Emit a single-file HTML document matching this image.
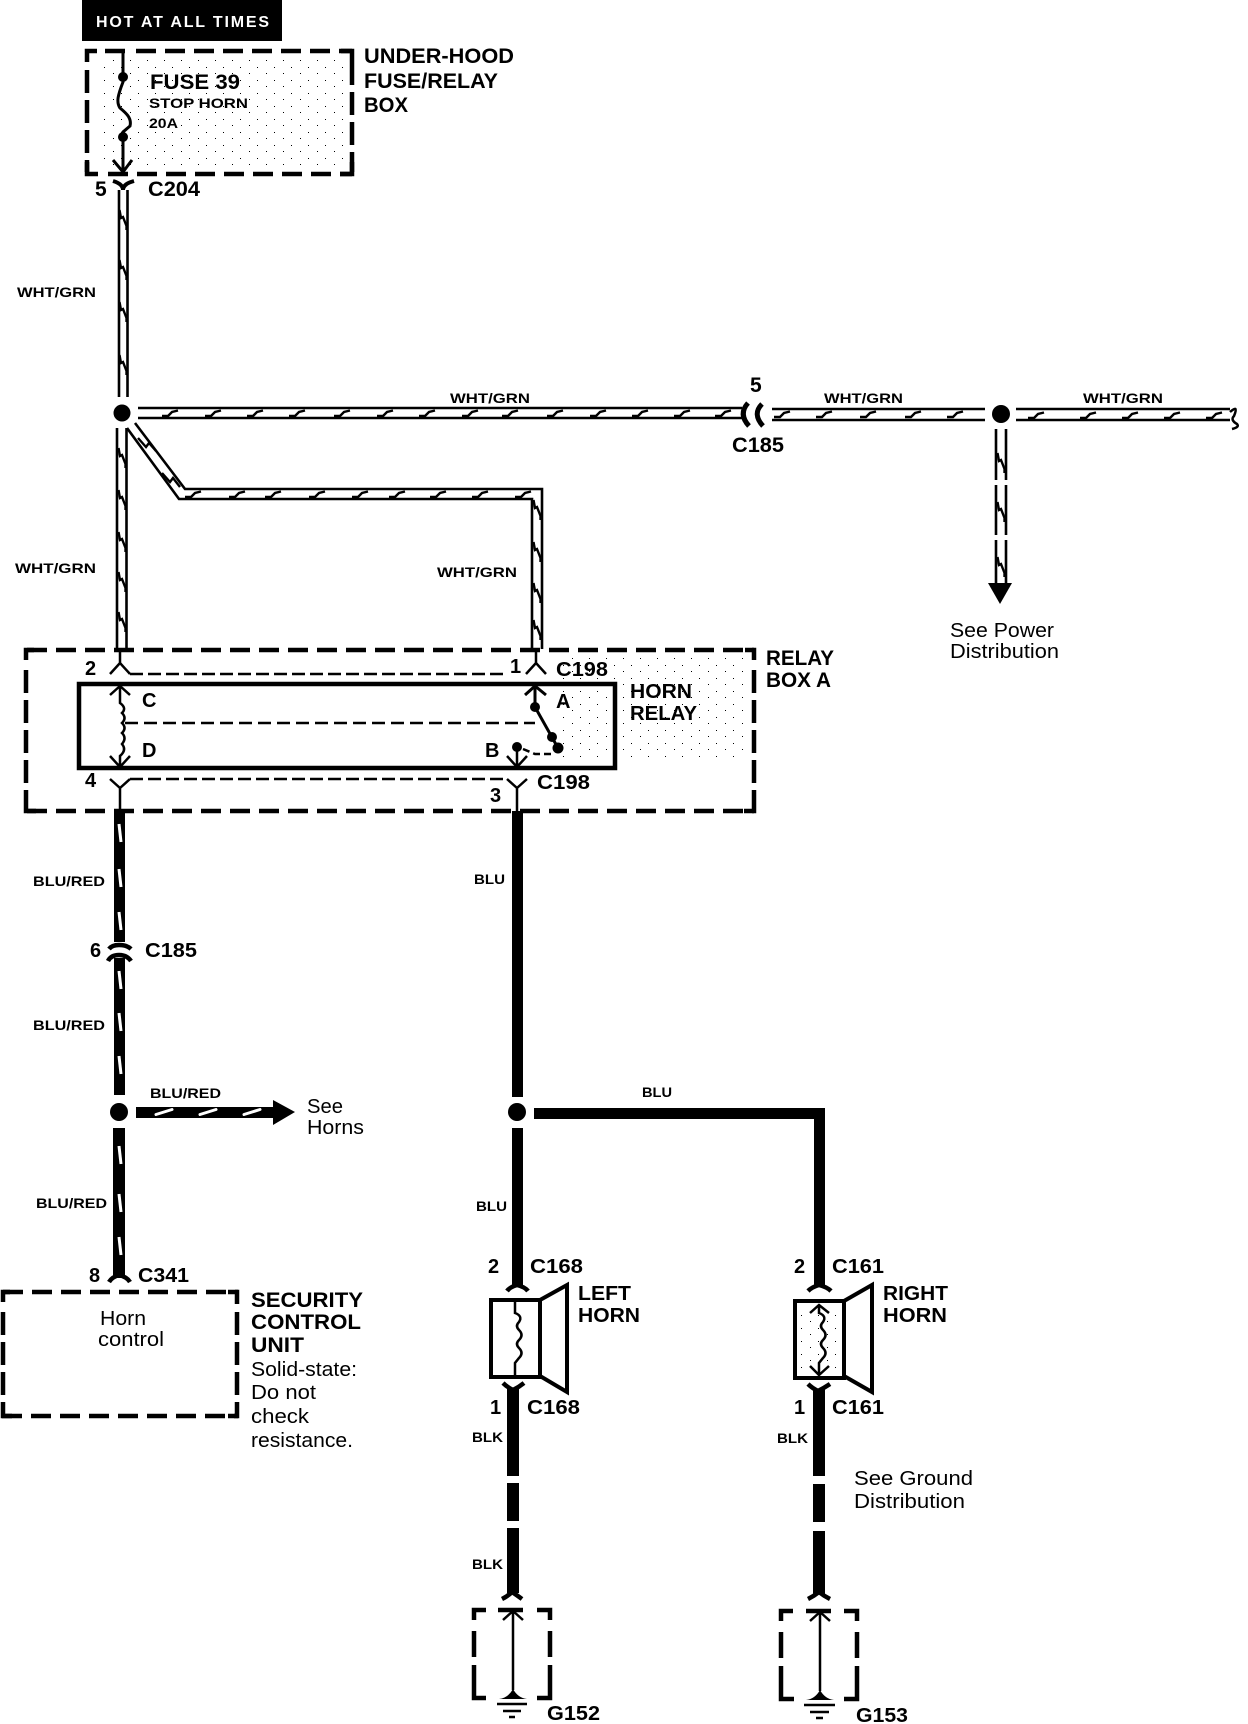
<!DOCTYPE html>
<html><head><meta charset="utf-8"><title>Horn circuit</title>
<style>
html,body{margin:0;padding:0;background:#fff}
svg{display:block}
text{font-family:"Liberation Sans",Arial,sans-serif;fill:#000}
.b{font-weight:bold;font-size:21px}
.s{font-weight:bold;font-size:14px}
.r{font-size:20px}
</style></head><body>
<svg width="1248" height="1724" viewBox="0 0 1248 1724" xmlns="http://www.w3.org/2000/svg">
<defs>
<path id="th" d="M-8 3L-2 3L2 -1L8 -2.500" fill="none" stroke="#000" stroke-width="2.400"/>
<path id="tv" d="M-3.500 -10L-2 -2L0 -3L3.500 6L3.500 10" fill="none" stroke="#000" stroke-width="2.400"/>
<path id="wt" d="M-1 -9L1 9" stroke="#fff" stroke-width="3" fill="none"/>
<path id="wh" d="M-8 2.500L8 -2.500" stroke="#fff" stroke-width="3" fill="none" stroke-linecap="round"/>
<pattern id="st" width="17" height="13" patternUnits="userSpaceOnUse"><rect x="2" y="2" width="1" height="1" fill="#000"/><rect x="11" y="8" width="1" height="1" fill="#000"/></pattern>
</defs>
<rect width="1248" height="1724" fill="#fff"/>

<!-- stipple -->
<g fill="url(#st)">
<rect x="100" y="56" width="245" height="112"/>
<rect x="560" y="655" width="190" height="105"/>
<rect x="800" y="1310" width="38" height="60"/>
</g>

<!-- header -->
<rect x="82" y="0" width="200" height="41" fill="#000"/>
<text x="96" y="27" style="fill:#fff;font-size:16px;font-weight:bold" textLength="173" lengthAdjust="spacing">HOT AT ALL TIMES</text>

<!-- fuse box -->
<g fill="none" stroke="#000" stroke-width="4.500">
<path d="M136 51H352" stroke-dasharray="20 9"/>
<path d="M108 174H352" stroke-dasharray="20 9"/>
<path d="M87 70V172" stroke-dasharray="23 7"/>
<path d="M352 62V172" stroke-dasharray="23 7"/>
<path d="M87 62V51H97M105 51H125M352 62V51H341M87 162V174H98M352 162V174H340"/>
</g>
<path d="M123 50V82C118 95 116 102 120 108C126 113 132 118 130 126L123 132V172M113 160L123 172L132 160" fill="none" stroke="#000" stroke-width="3"/>
<circle cx="123" cy="77" r="5"/><circle cx="123" cy="137" r="5"/>
<path d="M113 181Q123 184 123 190Q123 184 134 181" fill="none" stroke="#000" stroke-width="4"/>
<text class="b" x="364" y="63" textLength="150" lengthAdjust="spacingAndGlyphs">UNDER-HOOD</text>
<text class="b" x="364" y="88" textLength="134" lengthAdjust="spacingAndGlyphs">FUSE/RELAY</text>
<text class="b" x="364" y="112" textLength="44" lengthAdjust="spacingAndGlyphs">BOX</text>
<text class="b" x="150" y="89" textLength="90" lengthAdjust="spacingAndGlyphs">FUSE 39</text>
<text class="s" x="149" y="108" textLength="99" lengthAdjust="spacingAndGlyphs">STOP HORN</text>
<text class="s" x="149" y="128" textLength="29" lengthAdjust="spacingAndGlyphs">20A</text>
<text class="b" x="95" y="196">5</text>
<text class="b" x="148" y="196" textLength="52" lengthAdjust="spacingAndGlyphs">C204</text>

<!-- wht/grn wires -->
<g fill="none" stroke="#000" stroke-width="2.600">
<path d="M119 190V397M127.500 190V397"/>
<path d="M117 428V649M126.500 428V649"/>
<path d="M127 428L179 499H532V649M135 423L185 489H542V649"/>
<path d="M138 408H742M138 418H742"/>
<path d="M772 409H985M772 420H985M1016 409H1230M1016 420H1230"/>
<path d="M996 429V480M1006 429V480M996 485V535M1006 485V535M996 540V584M1006 540V584"/>
<path d="M1230 412Q1239 404 1234 416Q1230 420 1237 424Q1240 427 1232 429" stroke-width="2.500"/>
</g>
<path d="M748 403Q738 414 749 426" fill="none" stroke="#000" stroke-width="5"/>
<path d="M762 404Q752 414 763 426" fill="none" stroke="#000" stroke-width="5"/>
<circle cx="122" cy="413" r="8.500"/>
<circle cx="1001" cy="414" r="9"/>
<path d="M988 583H1012L1000 604Z"/>

<!-- twist marks -->
<g>
<use href="#tv" x="123" y="220"/><use href="#tv" x="123" y="270"/><use href="#tv" x="123" y="312"/><use href="#tv" x="123" y="365"/>
<use href="#tv" x="122" y="458"/><use href="#tv" x="122" y="500"/><use href="#tv" x="122" y="542"/><use href="#tv" x="122" y="582"/><use href="#tv" x="122" y="622"/>
<use href="#tv" x="537" y="510"/><use href="#tv" x="537" y="552"/><use href="#tv" x="537" y="593"/><use href="#tv" x="537" y="630"/>
<use href="#tv" x="1001" y="463"/><use href="#tv" x="1001" y="512"/><use href="#tv" x="1001" y="567"/>
<use href="#th" x="170" y="413"/><use href="#th" x="213" y="413"/><use href="#th" x="255" y="413"/><use href="#th" x="297" y="413"/><use href="#th" x="342" y="413"/><use href="#th" x="385" y="413"/><use href="#th" x="427" y="413"/><use href="#th" x="470" y="413"/><use href="#th" x="510" y="413"/><use href="#th" x="555" y="413"/><use href="#th" x="598" y="413"/><use href="#th" x="640" y="413"/><use href="#th" x="682" y="413"/><use href="#th" x="723" y="413"/>
<use href="#th" x="782" y="414"/><use href="#th" x="824" y="414"/><use href="#th" x="868" y="414"/><use href="#th" x="913" y="414"/><use href="#th" x="955" y="414"/>
<use href="#th" x="1036" y="415"/><use href="#th" x="1088" y="415"/><use href="#th" x="1130" y="415"/><use href="#th" x="1172" y="415"/><use href="#th" x="1214" y="415"/>
<use href="#th" x="193" y="494"/><use href="#th" x="237" y="494"/><use href="#th" x="273" y="494"/><use href="#th" x="317" y="494"/><use href="#th" x="360" y="494"/><use href="#th" x="397" y="494"/><use href="#th" x="438" y="494"/><use href="#th" x="480" y="494"/><use href="#th" x="523" y="494"/>
<path d="M138 438L146 447L149 443L156 451M162 473L170 482L173 478L180 487" fill="none" stroke="#000" stroke-width="2.400"/>
</g>

<text class="s" x="17" y="297" textLength="79" lengthAdjust="spacingAndGlyphs">WHT/GRN</text>
<text class="s" x="15" y="573" textLength="81" lengthAdjust="spacingAndGlyphs">WHT/GRN</text>
<text class="s" x="437" y="577" textLength="80" lengthAdjust="spacingAndGlyphs">WHT/GRN</text>
<text class="s" x="450" y="403" textLength="80" lengthAdjust="spacingAndGlyphs">WHT/GRN</text>
<text class="s" x="824" y="403" textLength="79" lengthAdjust="spacingAndGlyphs">WHT/GRN</text>
<text class="s" x="1083" y="403" textLength="80" lengthAdjust="spacingAndGlyphs">WHT/GRN</text>
<text class="b" x="750" y="392">5</text>
<text class="b" x="732" y="452" textLength="52" lengthAdjust="spacingAndGlyphs">C185</text>
<text class="r" x="950" y="637" textLength="104" lengthAdjust="spacingAndGlyphs">See Power</text>
<text class="r" x="950" y="658" textLength="109" lengthAdjust="spacingAndGlyphs">Distribution</text>

<!-- relay box -->
<g fill="none" stroke="#000" stroke-width="4.500">
<path d="M27 650H754" stroke-dasharray="20 9"/>
<path d="M27 811H754" stroke-dasharray="20 9"/>
<path d="M26 670V800" stroke-dasharray="23 7"/>
<path d="M754 670V800" stroke-dasharray="23 7"/>
<path d="M26 660V650H34M754 660V650H745M26 800V811H36M754 800V811H744"/>
</g>
<text class="b" x="766" y="665" textLength="68" lengthAdjust="spacingAndGlyphs">RELAY</text>
<text class="b" x="766" y="687" textLength="65" lengthAdjust="spacingAndGlyphs">BOX A</text>

<rect x="79" y="684" width="536" height="84" fill="none" stroke="#000" stroke-width="4.500"/>
<g fill="none" stroke="#000" stroke-width="2.500">
<path d="M120 649V663M110 674L120 663L130 674"/>
<path d="M536 649V663M526 674L536 663L546 674"/>
<path d="M130 674H503" stroke-dasharray="13 5"/>
<path d="M120 686V703Q127 708 122 713Q127 718 122 723Q127 728 122 733Q127 738 122 744Q127 750 120 756V767M110 695L120 686L130 695M110 756L120 767L130 756"/>
<path d="M125 723H535" stroke-dasharray="13 6"/>
<path d="M535 686V707L558 748M525 695L535 686L546 695" stroke-width="3"/>
<path d="M517 748V767M507 756L517 767L527 756"/>
<path d="M523 749L535 754H552" stroke-dasharray="7 4"/>
<path d="M120 811V788M110 779L120 788L130 779"/>
<path d="M517 811V788M507 779L517 788L527 779"/>
<path d="M130 779H505" stroke-dasharray="13 5"/>
</g>
<circle cx="535" cy="707" r="5"/><circle cx="552" cy="737" r="5"/><circle cx="558" cy="748" r="5.500"/><circle cx="517" cy="747" r="5"/>
<text class="b" x="85" y="675" style="font-size:20px">2</text>
<text class="b" x="510" y="673" style="font-size:20px">1</text>
<text class="b" x="556" y="676" textLength="52" lengthAdjust="spacingAndGlyphs" style="font-size:20px">C198</text>
<text class="b" x="537" y="789" textLength="53" lengthAdjust="spacingAndGlyphs" style="font-size:20px">C198</text>
<text class="b" x="85" y="787" style="font-size:20px">4</text>
<text class="b" x="490" y="802" style="font-size:20px">3</text>
<text class="b" x="630" y="698" textLength="62" lengthAdjust="spacingAndGlyphs" style="font-size:20px">HORN</text>
<text class="b" x="630" y="720" textLength="67" lengthAdjust="spacingAndGlyphs" style="font-size:20px">RELAY</text>
<text class="b" x="142" y="707" style="font-size:20px">C</text>
<text class="b" x="142" y="757" style="font-size:20px">D</text>
<text class="b" x="556" y="708" style="font-size:20px">A</text>
<text class="b" x="485" y="757" style="font-size:20px">B</text>

<!-- blu/red -->
<g fill="#000">
<rect x="114" y="811" width="11" height="131"/>
<rect x="114" y="958" width="11" height="137"/>
<rect x="113" y="1128" width="12" height="150"/>
<rect x="136" y="1107" width="138" height="11"/>
<path d="M273 1100L295 1112L273 1125Z"/>
<circle cx="119" cy="1112" r="9"/>
</g>
<g fill="none" stroke="#000" stroke-width="4.500">
<path d="M109 949Q112 945 119 945Q127 945 131 949"/>
<path d="M108 961Q111 955 119 955Q127 955 131 961"/>
<path d="M109 1282Q112 1277 119 1275Q127 1277 130 1282"/>
</g>
<g>
<use href="#wt" x="120" y="833"/><use href="#wt" x="120" y="878"/><use href="#wt" x="120" y="921"/>
<use href="#wt" x="120" y="980"/><use href="#wt" x="120" y="1022"/><use href="#wt" x="120" y="1065"/>
<use href="#wt" x="120" y="1155"/><use href="#wt" x="120" y="1203"/><use href="#wt" x="120" y="1246"/>
<use href="#wh" x="164" y="1112"/><use href="#wh" x="208" y="1112"/><use href="#wh" x="252" y="1112"/>
</g>
<text class="s" x="33" y="886" textLength="72" lengthAdjust="spacingAndGlyphs">BLU/RED</text>
<text class="s" x="33" y="1030" textLength="72" lengthAdjust="spacingAndGlyphs">BLU/RED</text>
<text class="s" x="36" y="1208" textLength="71" lengthAdjust="spacingAndGlyphs">BLU/RED</text>
<text class="s" x="150" y="1098" textLength="71" lengthAdjust="spacingAndGlyphs">BLU/RED</text>
<text class="b" x="90" y="957" style="font-size:20px">6</text>
<text class="b" x="145" y="957" textLength="52" lengthAdjust="spacingAndGlyphs" style="font-size:20px">C185</text>
<text class="r" x="307" y="1113" textLength="36" lengthAdjust="spacingAndGlyphs">See</text>
<text class="r" x="307" y="1134" textLength="57" lengthAdjust="spacingAndGlyphs">Horns</text>
<text class="b" x="89" y="1282" style="font-size:20px">8</text>
<text class="b" x="138" y="1282" textLength="51" lengthAdjust="spacingAndGlyphs" style="font-size:20px">C341</text>

<!-- security control unit -->
<g fill="none" stroke="#000" stroke-width="4.500">
<path d="M3 1292H238" stroke-dasharray="20 9"/>
<path d="M2 1416H238" stroke-dasharray="20 9"/>
<path d="M3 1312V1405" stroke-dasharray="23 7"/>
<path d="M237 1312V1405" stroke-dasharray="23 7"/>
<path d="M3 1302V1292H10M237 1304V1292H228M3 1405V1416H12M237 1405V1416H228"/>
</g>
<text class="r" x="100" y="1325" textLength="46" lengthAdjust="spacingAndGlyphs">Horn</text>
<text class="r" x="98" y="1346" textLength="66" lengthAdjust="spacingAndGlyphs">control</text>
<text class="b" x="251" y="1307" textLength="112" lengthAdjust="spacingAndGlyphs">SECURITY</text>
<text class="b" x="251" y="1329" textLength="110" lengthAdjust="spacingAndGlyphs">CONTROL</text>
<text class="b" x="251" y="1352" textLength="53" lengthAdjust="spacingAndGlyphs">UNIT</text>
<text class="r" x="251" y="1376" textLength="106" lengthAdjust="spacingAndGlyphs">Solid-state:</text>
<text class="r" x="251" y="1399" textLength="65" lengthAdjust="spacingAndGlyphs">Do not</text>
<text class="r" x="251" y="1423" textLength="58" lengthAdjust="spacingAndGlyphs">check</text>
<text class="r" x="251" y="1447" textLength="102" lengthAdjust="spacingAndGlyphs">resistance.</text>

<!-- blu wires -->
<g fill="#000">
<rect x="512" y="811" width="11" height="286"/>
<circle cx="517" cy="1112" r="9"/>
<rect x="512" y="1128" width="11" height="158"/>
<path d="M534 1108H825V1286H814V1119H534Z"/>
</g>
<text class="s" x="474" y="884" textLength="31" lengthAdjust="spacingAndGlyphs">BLU</text>
<text class="s" x="476" y="1211" textLength="31" lengthAdjust="spacingAndGlyphs">BLU</text>
<text class="s" x="642" y="1097" textLength="30" lengthAdjust="spacingAndGlyphs">BLU</text>

<!-- left horn -->
<path d="M507 1291Q510 1287 517 1285Q525 1287 528 1291" fill="none" stroke="#000" stroke-width="4.500"/>
<rect x="491" y="1300" width="49" height="77" fill="none" stroke="#000" stroke-width="4"/>
<path d="M540 1300L567 1285V1392L540 1376" fill="none" stroke="#000" stroke-width="4"/>
<path d="M515 1300V1313Q523 1316 519 1322Q515 1326 519 1330Q524 1335 519 1340Q515 1344 519 1348Q524 1353 519 1358L515 1363V1377" fill="none" stroke="#000" stroke-width="2.500"/>
<text class="b" x="488" y="1273" style="font-size:20px">2</text>
<text class="b" x="530" y="1273" textLength="53" lengthAdjust="spacingAndGlyphs" style="font-size:20px">C168</text>
<text class="b" x="578" y="1300" textLength="53" lengthAdjust="spacingAndGlyphs" style="font-size:20px">LEFT</text>
<text class="b" x="578" y="1322" textLength="62" lengthAdjust="spacingAndGlyphs" style="font-size:20px">HORN</text>
<path d="M503 1383Q507 1387 513 1390Q519 1387 524 1383" fill="none" stroke="#000" stroke-width="4.500"/>
<g fill="#000">
<rect x="507" y="1388" width="12" height="88"/>
<rect x="507" y="1483" width="12" height="38"/>
<rect x="507" y="1528" width="12" height="65"/>
</g>
<path d="M502 1599Q508 1596 512 1592Q518 1596 522 1599" fill="none" stroke="#000" stroke-width="4.500"/>
<text class="b" x="490" y="1414" style="font-size:20px">1</text>
<text class="b" x="527" y="1414" textLength="53" lengthAdjust="spacingAndGlyphs" style="font-size:20px">C168</text>
<text class="s" x="472" y="1442" textLength="31" lengthAdjust="spacingAndGlyphs">BLK</text>
<text class="s" x="472" y="1569" textLength="31" lengthAdjust="spacingAndGlyphs">BLK</text>

<!-- G152 -->
<g fill="none" stroke="#000" stroke-width="4.500">
<path d="M486 1610H474V1620M474 1631V1657M474 1665V1688M474 1688V1698H486"/>
<path d="M537 1610H550V1620M550 1631V1657M550 1665V1688M550 1688V1698H537"/>
<path d="M498 1610H523"/>
</g>
<path d="M513 1611V1690M503 1620L513 1611L523 1620" fill="none" stroke="#000" stroke-width="2.500"/>
<path d="M499 1699Q508 1698 513 1689Q518 1698 527 1699Z"/>
<path d="M497 1704H527M503 1711H521M509 1717H515" stroke="#000" stroke-width="2.500" fill="none"/>
<text class="b" x="547" y="1720" textLength="53" lengthAdjust="spacingAndGlyphs" style="font-size:20px">G152</text>

<!-- right horn -->
<path d="M808 1291Q812 1287 819 1285Q827 1287 831 1291" fill="none" stroke="#000" stroke-width="4.500"/>
<rect x="795" y="1301" width="49" height="77" fill="none" stroke="#000" stroke-width="4"/>
<path d="M844 1301L872 1285V1392L844 1376" fill="none" stroke="#000" stroke-width="4"/>
<path d="M819 1305V1313Q827 1316 823 1322Q819 1326 823 1330Q828 1335 823 1340Q819 1344 823 1348Q828 1353 823 1358L819 1363V1374M810 1313L819 1305L829 1313M810 1366L819 1375L829 1366" fill="none" stroke="#000" stroke-width="2.500"/>
<text class="b" x="794" y="1273" style="font-size:20px">2</text>
<text class="b" x="832" y="1273" textLength="52" lengthAdjust="spacingAndGlyphs" style="font-size:20px">C161</text>
<text class="b" x="883" y="1300" textLength="65" lengthAdjust="spacingAndGlyphs" style="font-size:20px">RIGHT</text>
<text class="b" x="883" y="1322" textLength="64" lengthAdjust="spacingAndGlyphs" style="font-size:20px">HORN</text>
<path d="M808 1384Q812 1388 818 1391Q824 1388 830 1384" fill="none" stroke="#000" stroke-width="4.500"/>
<g fill="#000">
<rect x="813" y="1389" width="12" height="87"/>
<rect x="813" y="1484" width="12" height="38"/>
<rect x="813" y="1531" width="12" height="63"/>
</g>
<path d="M808 1599Q814 1596 819 1592Q824 1596 830 1599" fill="none" stroke="#000" stroke-width="4.500"/>
<text class="b" x="794" y="1414" style="font-size:20px">1</text>
<text class="b" x="832" y="1414" textLength="52" lengthAdjust="spacingAndGlyphs" style="font-size:20px">C161</text>
<text class="s" x="777" y="1443" textLength="31" lengthAdjust="spacingAndGlyphs">BLK</text>
<text class="r" x="854" y="1485" textLength="119" lengthAdjust="spacingAndGlyphs">See Ground</text>
<text class="r" x="854" y="1508" textLength="111" lengthAdjust="spacingAndGlyphs">Distribution</text>

<!-- G153 -->
<g fill="none" stroke="#000" stroke-width="4.500">
<path d="M793 1611H781V1621M781 1632V1658M781 1666V1689M781 1689V1699H794"/>
<path d="M844 1611H857V1621M857 1632V1658M857 1666V1689M857 1689V1699H844"/>
<path d="M806 1611H831"/>
</g>
<path d="M820 1612V1691M810 1621L820 1612L830 1621" fill="none" stroke="#000" stroke-width="2.500"/>
<path d="M806 1700Q815 1699 820 1690Q825 1699 834 1700Z"/>
<path d="M804 1705H835M810 1712H829M816 1718H823" stroke="#000" stroke-width="2.500" fill="none"/>
<text class="b" x="856" y="1722" textLength="52" lengthAdjust="spacingAndGlyphs" style="font-size:20px">G153</text>
</svg>
</body></html>
